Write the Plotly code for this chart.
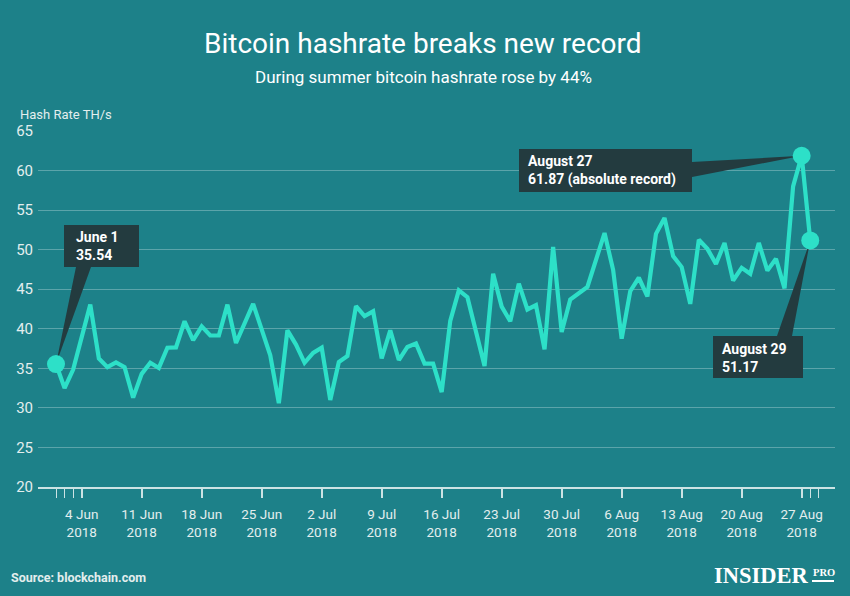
import datetime as dt
import plotly.graph_objects as go

# ---------------- data ----------------
dates = [
    "2018-06-01", "2018-06-02", "2018-06-03", "2018-06-05", "2018-06-06", "2018-06-07",
    "2018-06-08", "2018-06-09", "2018-06-10", "2018-06-11", "2018-06-12", "2018-06-13",
    "2018-06-14", "2018-06-15", "2018-06-16", "2018-06-17", "2018-06-18", "2018-06-19",
    "2018-06-20", "2018-06-21", "2018-06-22", "2018-06-24", "2018-06-26", "2018-06-27",
    "2018-06-28", "2018-06-29", "2018-06-30", "2018-07-01", "2018-07-02", "2018-07-03",
    "2018-07-04", "2018-07-05", "2018-07-06", "2018-07-07", "2018-07-08", "2018-07-09",
    "2018-07-10", "2018-07-11", "2018-07-12", "2018-07-13", "2018-07-14", "2018-07-15",
    "2018-07-16", "2018-07-17", "2018-07-18", "2018-07-19", "2018-07-21", "2018-07-22",
    "2018-07-23", "2018-07-24", "2018-07-25", "2018-07-26", "2018-07-27", "2018-07-28",
    "2018-07-29", "2018-07-30", "2018-07-31", "2018-08-01", "2018-08-02", "2018-08-04",
    "2018-08-05", "2018-08-06", "2018-08-07", "2018-08-08", "2018-08-09", "2018-08-10",
    "2018-08-11", "2018-08-12", "2018-08-13", "2018-08-14", "2018-08-15", "2018-08-16",
    "2018-08-17", "2018-08-18", "2018-08-19", "2018-08-20", "2018-08-21", "2018-08-22",
    "2018-08-23", "2018-08-24", "2018-08-25", "2018-08-26", "2018-08-27", "2018-08-28",
]
hashrate = [
    35.54, 32.5, 34.85, 43.05, 36.25, 35.15,
    35.75, 35.15, 31.3, 34.3, 35.7, 35.05,
    37.6, 37.65, 40.95, 38.55, 40.3, 39.15,
    39.15, 43.05, 38.2, 43.15, 36.65, 30.6,
    39.8, 38.0, 35.7, 36.95, 37.6, 31.0,
    35.8, 36.55, 42.85, 41.6, 42.2, 36.25,
    39.8, 36.05, 37.7, 38.15, 35.6, 35.6,
    32.0, 41.0, 44.85, 44.0, 35.3, 46.95,
    42.8, 40.95, 45.7, 42.45, 43.0, 37.4,
    50.35, 39.6, 43.7, 44.55, 45.3, 52.1,
    47.45, 38.75, 44.75, 46.45, 44.1, 52.0,
    54.0, 49.2, 47.8, 43.15, 51.25, 50.1,
    48.2, 50.85, 46.1, 47.7, 46.95, 50.85,
    47.35, 48.85, 45.1, 58.0, 61.87, 51.17,
]
tick_dates = ["2018-06-04", "2018-06-11", "2018-06-18", "2018-06-25", "2018-07-02",
              "2018-07-09", "2018-07-16", "2018-07-23", "2018-07-30", "2018-08-06",
              "2018-08-13", "2018-08-20", "2018-08-27"]
tick_labels = ["4 Jun<br>2018", "11 Jun<br>2018", "18 Jun<br>2018", "25 Jun<br>2018",
               "2 Jul<br>2018", "9 Jul<br>2018", "16 Jul<br>2018", "23 Jul<br>2018",
               "30 Jul<br>2018", "6 Aug<br>2018", "13 Aug<br>2018", "20 Aug<br>2018",
               "27 Aug<br>2018"]
minor_tick_dates = ["2018-06-01", "2018-06-02", "2018-06-03", "2018-08-28", "2018-08-29"]
y_ticks = [20, 25, 30, 35, 40, 45, 50, 55, 60, 65]

callout_idx = [0, len(hashrate) - 2, len(hashrate) - 1]
callout_text = ["<b>June 1<br>35.54</b>",
                "<b>August 27<br>61.87 (absolute record)</b>",
                "<b>August 29<br>51.17</b>"]

# ---------------- layout geometry ----------------
W, H = 850, 596
PL, PR, PT, PB = 38, 835, 131, 487          # plot area in pixels
X_START = dt.datetime(2018, 5, 29, 21, 36)
X_END = dt.datetime(2018, 8, 30, 21, 20)
Y_MIN, Y_MAX = 20, 65

BG = "#1d8189"
LINE = "#2de0c8"
BOX = "#233b3f"
GRID = "rgba(255,255,255,0.28)"
AXIS = "rgba(235,245,245,0.85)"
TXT = "#e3eeee"


def px2x(px):
    return (px - PL) / (PR - PL)


def px2y(py):
    return (PB - py) / (PB - PT)


def px2date(px):
    return X_START + (X_END - X_START) * ((px - PL) / (PR - PL))


def py2val(py):
    return Y_MAX - (py - PT) / (PB - PT) * (Y_MAX - Y_MIN)


# callout boxes (pixel rects), wedge bases (pixels), text anchors (pixels)
boxes = [(64, 225, 139, 267), (519, 149, 692, 192), (713, 336, 803, 378)]
wedge_bases = [((76, 267), (91, 267)), ((692, 162), (692, 177)), ((777, 336), (792, 336))]
text_pos = [(74, 246), (526, 170), (720, 358)]

fig = go.Figure()

# wedges of the callouts, tip on the data point
for i, (b1, b2) in zip(callout_idx, wedge_bases):
    fig.add_trace(go.Scatter(
        x=[px2date(b1[0]), px2date(b2[0]), dates[i], px2date(b1[0])],
        y=[py2val(b1[1]), py2val(b2[1]), hashrate[i], py2val(b1[1])],
        mode="lines", fill="toself", fillcolor=BOX, line=dict(width=0, color=BOX),
        hoverinfo="skip", showlegend=False))

fig.add_trace(go.Scatter(
    x=dates, y=hashrate, mode="lines",
    line=dict(color=LINE, width=4.2), showlegend=False, name="Hash Rate"))

fig.add_trace(go.Scatter(
    x=[dates[i] for i in callout_idx], y=[hashrate[i] for i in callout_idx],
    mode="markers", marker=dict(color=LINE, size=18), showlegend=False))

shapes = []
for (x0, y0, x1, y1) in boxes:
    shapes.append(dict(type="rect", xref="paper", yref="paper",
                       x0=px2x(x0), x1=px2x(x1), y0=px2y(y1), y1=px2y(y0),
                       fillcolor=BOX, line=dict(width=0), layer="above"))
# PRO rule of the logo
shapes.append(dict(type="line", xref="paper", yref="paper",
                   x0=px2x(812), x1=px2x(834), y0=px2y(581), y1=px2y(581),
                   line=dict(color="white", width=2)))

annotations = []
for t, (tx, ty) in zip(callout_text, text_pos):
    annotations.append(dict(text=t, xref="paper", yref="paper", x=px2x(tx), y=px2y(ty),
                            xanchor="left", yanchor="middle", align="left", showarrow=False,
                            font=dict(family="Roboto", size=14, color="white")))

annotations += [
    dict(text="Bitcoin hashrate breaks new record", xref="paper", yref="paper",
         x=px2x(423), y=px2y(43), xanchor="center", yanchor="middle", showarrow=False,
         font=dict(family="Roboto", size=28, color="white")),
    dict(text="During summer bitcoin hashrate rose by 44%", xref="paper", yref="paper",
         x=px2x(423), y=px2y(77), xanchor="center", yanchor="middle", showarrow=False,
         font=dict(family="Roboto", size=17, color="white")),
    dict(text="Hash Rate TH/s", xref="paper", yref="paper",
         x=px2x(18), y=px2y(115), xanchor="left", yanchor="middle", showarrow=False,
         font=dict(family="Roboto", size=13, color=TXT)),
    dict(text="<b>Source: blockchain.com</b>", xref="paper", yref="paper",
         x=px2x(9), y=px2y(577), xanchor="left", yanchor="middle", showarrow=False,
         font=dict(family="Roboto", size=12.5, color=TXT)),
    dict(text="<b>INSIDER</b>", xref="paper", yref="paper",
         x=px2x(712), y=px2y(575), xanchor="left", yanchor="middle", showarrow=False,
         font=dict(family="Liberation Serif", size=22.5, color="white")),
    dict(text="<b>PRO</b>", xref="paper", yref="paper",
         x=px2x(811), y=px2y(572), xanchor="left", yanchor="middle", showarrow=False,
         font=dict(family="Liberation Serif", size=10.5, color="white")),
]

fig.update_layout(
    width=W, height=H,
    paper_bgcolor=BG, plot_bgcolor=BG,
    margin=dict(l=PL, r=W - PR, t=PT, b=H - PB, pad=0),
    shapes=shapes, annotations=annotations,
    font=dict(family="Roboto", color=TXT),
    xaxis=dict(
        type="date", range=[X_START, X_END],
        tickmode="array", tickvals=tick_dates, ticktext=tick_labels,
        ticks="outside", ticklen=9, tickwidth=1.6, tickcolor=AXIS,
        showline=True, linecolor=AXIS, linewidth=1.6,
        showgrid=False, zeroline=False,
        ticklabelstandoff=5,
        tickfont=dict(family="Roboto", size=13.5, color=TXT),
        minor=dict(tickmode="array", tickvals=minor_tick_dates, ticks="outside",
                   ticklen=9, tickwidth=1, tickcolor=AXIS, showgrid=False),
    ),
    yaxis=dict(
        range=[Y_MIN, Y_MAX], tickmode="array", tickvals=y_ticks,
        showgrid=True, gridcolor=GRID, gridwidth=1.2,
        zeroline=False, showline=False, ticks="",
        ticklabelstandoff=4,
        tickfont=dict(family="Roboto", size=15, color=TXT),
    ),
)

fig.write_html("out.html", config={"displayModeBar": False},
               post_script="document.body.style.margin='0';document.body.style.padding='0';")
